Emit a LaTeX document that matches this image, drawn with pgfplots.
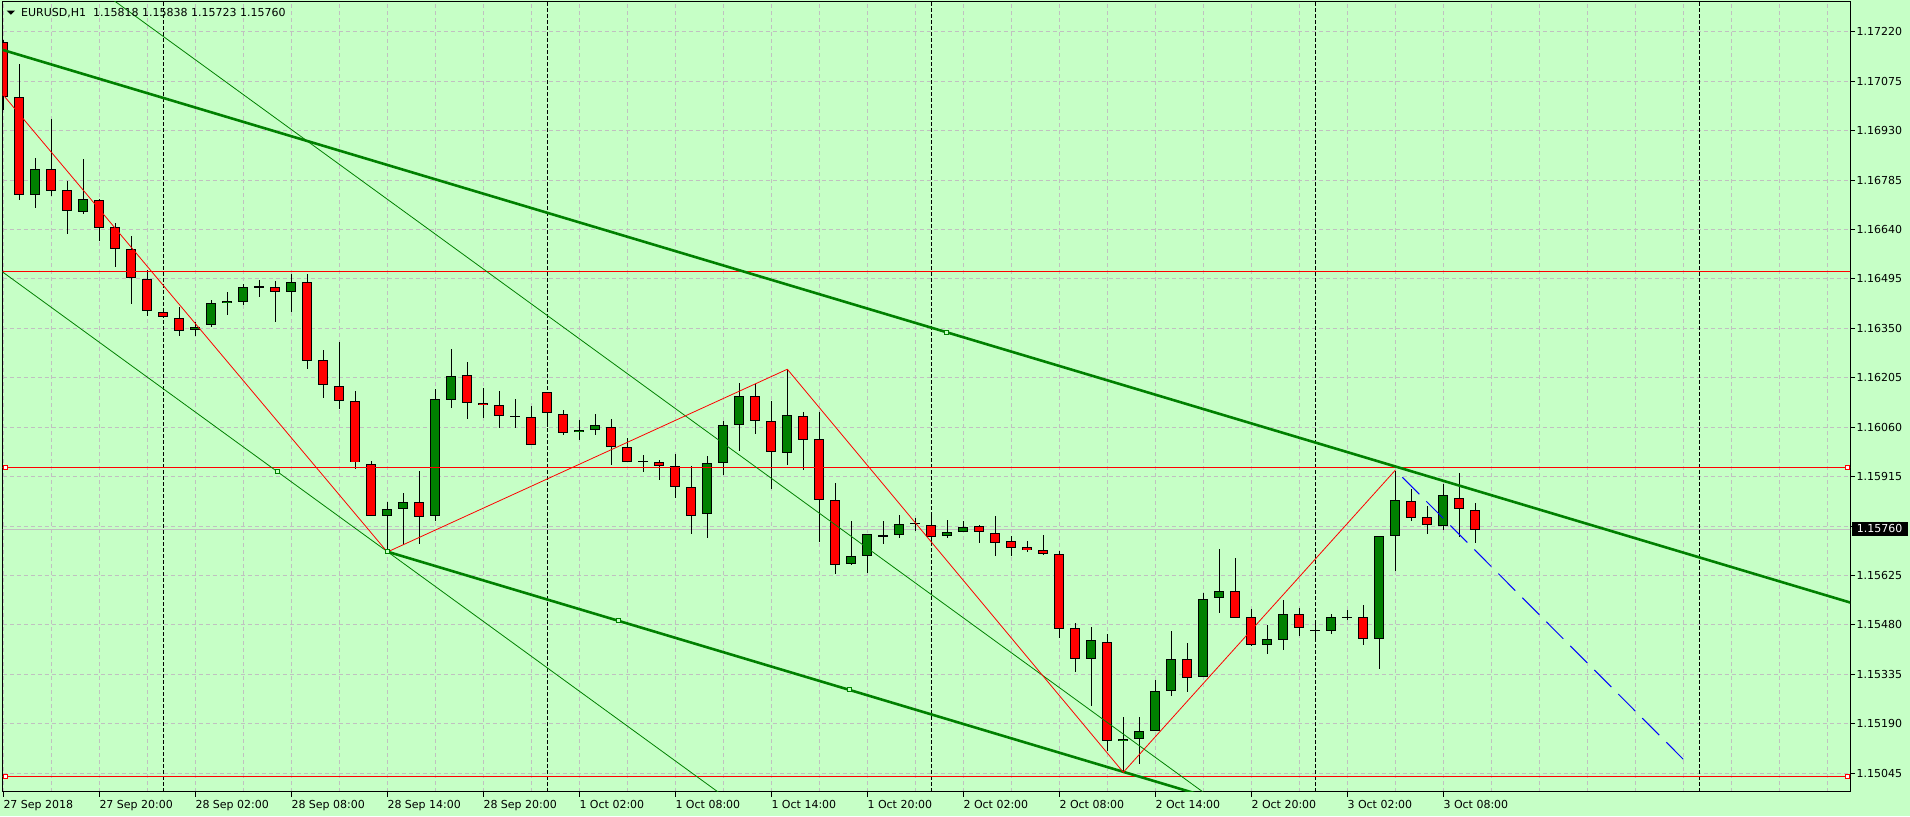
\documentclass[border=0pt]{standalone}
\usepackage{pgfplots}
\pgfplotsset{compat=1.18}
\usepackage{pgfplotstable}
\usepackage{fontspec}
\setmainfont{DejaVu Sans}
\definecolor{bg}{RGB}{198,255,198}
\definecolor{gridc}{RGB}{192,192,192}
\definecolor{mtgreen}{RGB}{0,128,0}

% bearish (red) candles: bar index, open, high, low, close
\pgfplotstableread{
k o h l c
0 1.17191 1.17196 1.16990 1.17029
1 1.17029 1.17125 1.16726 1.16743
3 1.16819 1.16964 1.16738 1.16754
4 1.16755 1.16782 1.16628 1.16693
6 1.16726 1.16729 1.16607 1.16645
7 1.16649 1.16658 1.16531 1.16582
8 1.16582 1.16621 1.16421 1.16497
9 1.16497 1.16521 1.16387 1.16403
10 1.16397 1.16398 1.16381 1.16382
11 1.16382 1.16414 1.16329 1.16344
17 1.16473 1.16492 1.16372 1.16456
19 1.16488 1.16509 1.16233 1.16257
20 1.16259 1.16287 1.16145 1.16184
21 1.16181 1.16310 1.16113 1.16136
22 1.16136 1.16169 1.15938 1.15957
23 1.15954 1.15961 1.15802 1.15802
26 1.15843 1.15932 1.15718 1.15799
29 1.16215 1.16251 1.16085 1.16133
30 1.16133 1.16176 1.16088 1.16127
31 1.16127 1.16167 1.16059 1.16092
33 1.16089 1.16122 1.16007 1.16007
34 1.16163 1.16165 1.16062 1.16101
35 1.16101 1.16111 1.16038 1.16045
38 1.16063 1.16084 1.15951 1.16004
39 1.16004 1.16028 1.15959 1.15959
41 1.15960 1.15964 1.15906 1.15948
42 1.15948 1.15981 1.15853 1.15887
43 1.15887 1.15946 1.15748 1.15801
47 1.16154 1.16186 1.16041 1.16080
48 1.16080 1.16137 1.15879 1.15989
50 1.16092 1.16104 1.15935 1.16022
51 1.16025 1.16106 1.15724 1.15846
52 1.15846 1.15896 1.15630 1.15655
58 1.15775 1.15799 1.15718 1.15740
61 1.15770 1.15775 1.15720 1.15752
62 1.15752 1.15799 1.15683 1.15722
63 1.15725 1.15743 1.15683 1.15705
64 1.15708 1.15725 1.15693 1.15699
65 1.15702 1.15746 1.15687 1.15690
66 1.15690 1.15699 1.15444 1.15470
67 1.15473 1.15485 1.15344 1.15382
69 1.15432 1.15453 1.15112 1.15142
74 1.15382 1.15429 1.15286 1.15327
77 1.15582 1.15676 1.15500 1.15503
78 1.15503 1.15527 1.15420 1.15423
81 1.15514 1.15532 1.15450 1.15473
82 1.15467 1.15497 1.15432 1.15464
85 1.15503 1.15538 1.15423 1.15441
88 1.15846 1.15881 1.15787 1.15796
89 1.15796 1.15828 1.15746 1.15772
91 1.15852 1.15925 1.15737 1.15822
92 1.15818 1.15838 1.15723 1.15760
}\bear

% bullish (green) candles and dojis
\pgfplotstableread{
k o h l c
2 1.16743 1.16850 1.16701 1.16819
5 1.16693 1.16847 1.16686 1.16729
12 1.16346 1.16370 1.16329 1.16356
13 1.16359 1.16433 1.16352 1.16424
14 1.16424 1.16456 1.16390 1.16430
15 1.16429 1.16480 1.16418 1.16473
16 1.16473 1.16492 1.16443 1.16473
18 1.16456 1.16509 1.16399 1.16485
24 1.15799 1.15841 1.15694 1.15822
25 1.15821 1.15867 1.15715 1.15843
27 1.15799 1.16172 1.15786 1.16142
28 1.16142 1.16291 1.16117 1.16212
32 1.16093 1.16143 1.16059 1.16093
36 1.16045 1.16084 1.16023 1.16051
37 1.16051 1.16099 1.16038 1.16066
40 1.15962 1.15979 1.15930 1.15962
44 1.15805 1.15976 1.15736 1.15957
45 1.15956 1.16080 1.15921 1.16069
46 1.16069 1.16190 1.15991 1.16154
49 1.15986 1.16230 1.15948 1.16095
53 1.15658 1.15785 1.15655 1.15681
54 1.15681 1.15746 1.15634 1.15746
55 1.15743 1.15785 1.15718 1.15743
56 1.15743 1.15804 1.15737 1.15778
57 1.15780 1.15796 1.15758 1.15780
59 1.15740 1.15788 1.15737 1.15752
60 1.15754 1.15786 1.15754 1.15766
68 1.15382 1.15473 1.15243 1.15435
70 1.15142 1.15212 1.15048 1.15148
71 1.15148 1.15209 1.15071 1.15171
72 1.15171 1.15321 1.15171 1.15288
73 1.15288 1.15461 1.15271 1.15382
75 1.15327 1.15573 1.15327 1.15558
76 1.15561 1.15703 1.15516 1.15582
79 1.15423 1.15479 1.15394 1.15441
80 1.15438 1.15553 1.15409 1.15514
83 1.15464 1.15511 1.15453 1.15503
84 1.15503 1.15523 1.15494 1.15503
86 1.15441 1.15743 1.15353 1.15743
87 1.15743 1.15934 1.15639 1.15848
90 1.15772 1.15893 1.15758 1.15863
}\bull

\pgfplotsset{
  wick/.style={draw=none, mark=none, forget plot,
    error bars/.cd, y dir=both, y explicit, error mark=none,
    error bar style={draw=black, solid, line width=1pt}},
  bodyout/.style={draw=none, mark=none, forget plot,
    error bars/.cd, y dir=both, y explicit, error mark=none,
    error bar style={draw=black, solid, line width=10pt}},
  bodyin/.style={draw=none, mark=none, forget plot,
    error bars/.cd, y dir=both, y explicit, error mark=none,
    error bar style={draw=#1, solid, line width=8pt}},
}

\begin{document}
\fontsize{11}{13}\selectfont
\begin{tikzpicture}[x=1pt,y=1pt]
\fill[bg] (0,0) rectangle (1910,816);
\useasboundingbox (0,0) rectangle (1910,816);
\begin{axis}[
  at={(2.5pt,24pt)}, anchor=south west, scale only axis,
  width=1847.5pt, height=790pt,
  xmin=-0.05, xmax=115.419, ymin=1.149902, ymax=1.173071,
  axis background/.style={fill=bg},
  axis line style={black, line width=1pt},
  tick style={black, line width=1pt},
  major tick length=5pt, tick align=outside,
  xtick pos=lower, ytick pos=upper, yticklabel pos=right,
  xtick={0,6,...,90},
  xticklabels={27 Sep 2018,27 Sep 20:00,28 Sep 02:00,28 Sep 08:00,28 Sep 14:00,28 Sep 20:00,1 Oct 02:00,1 Oct 08:00,1 Oct 14:00,1 Oct 20:00,2 Oct 02:00,2 Oct 08:00,2 Oct 14:00,2 Oct 20:00,3 Oct 02:00,3 Oct 08:00},
  minor xtick={0,3,...,114},
  minor tick length=0pt,
  xmajorgrids=false, xminorgrids=true, ymajorgrids=true,
  ytick={1.15045,1.15190,1.15335,1.15480,1.15625,1.15770,1.15915,1.16060,1.16205,1.16350,1.16495,1.16640,1.16785,1.16930,1.17075,1.17220},
  yticklabels={1.15045,1.15190,1.15335,1.15480,1.15625,1.15770,1.15915,1.16060,1.16205,1.16350,1.16495,1.16640,1.16785,1.16930,1.17075,1.17220},
  grid style={gridc, dash pattern=on 4pt off 3pt, line width=1pt},
  minor grid style={gridc, dash pattern=on 4pt off 3pt, line width=1pt},
  extra x ticks={10,34,58,82,106},
  extra x tick labels={},
  extra x tick style={xmajorgrids=true, xminorgrids=false, major tick length=0pt,
     major grid style={black, dash pattern=on 4pt off 2pt, line width=1pt}},
  xticklabel style={anchor=north west, inner sep=0pt, font=\fontsize{11}{13}\selectfont},
  yticklabel style={anchor=west, inner sep=0pt, font=\fontsize{11}{13}\selectfont},
  xticklabel shift=3pt, yticklabel shift=1.5pt,
]
% bid line
\addplot[gridc, line width=1pt, forget plot] coordinates {(-1,1.15760) (120,1.15760)};
% candles
\addplot[wick] table[x=k, y expr={(\thisrow{h}+\thisrow{l})/2}, y error expr={(\thisrow{h}-\thisrow{l})/2}] {\bear};
\addplot[wick] table[x=k, y expr={(\thisrow{h}+\thisrow{l})/2}, y error expr={(\thisrow{h}-\thisrow{l})/2}] {\bull};
\addplot[bodyout] table[x=k, y expr={(\thisrow{o}+\thisrow{c})/2}, y error expr={max(abs(\thisrow{o}-\thisrow{c})/2,0.0000147)}] {\bear};
\addplot[bodyout] table[x=k, y expr={(\thisrow{o}+\thisrow{c})/2}, y error expr={max(abs(\thisrow{o}-\thisrow{c})/2,0.0000147)}] {\bull};
\addplot[bodyin=red] table[x=k, y expr={(\thisrow{o}+\thisrow{c})/2}, y error expr={max(abs(\thisrow{o}-\thisrow{c})/2-0.0000293,0)}] {\bear};
\addplot[bodyin=mtgreen] table[x=k, y expr={(\thisrow{o}+\thisrow{c})/2}, y error expr={max(abs(\thisrow{o}-\thisrow{c})/2-0.0000293,0)}] {\bull};
% horizontal levels
\addplot[red, line width=1pt] coordinates {(-1,1.16518) (120,1.16518)};
\addplot[red, line width=1pt] coordinates {(-1,1.15942) (120,1.15942)};
\addplot[red, line width=1pt] coordinates {(-1,1.15036) (120,1.15036)};
% thin channel
\addplot[mtgreen, line width=0.8pt] coordinates {(0,1.17547) (120,1.13455)};
\addplot[mtgreen, line width=0.8pt] coordinates {(-2,1.16582) (120,1.12421)};
% thick channel
\addplot[mtgreen, line width=2.6pt] coordinates {(-2,1.171941) (120,1.154817)};
\addplot[mtgreen, line width=2.6pt] coordinates {(24,1.15695) (120,1.143475)};
% zigzag
\addplot[red, line width=0.8pt] coordinates {(-1,1.17090) (24,1.15694) (49,1.16230) (70,1.15048) (87,1.15934)};
% projection
\addplot[blue, line width=1pt, dash pattern=on 24pt off 10pt, dash phase=24pt] coordinates {(87,1.15934) (105,1.15086)};
% object handles
\addplot[only marks, mark=square*, mark size=2pt, mark options={draw=mtgreen, fill=bg, line width=1pt, solid}] coordinates {(24,1.15695) (38.47,1.15492) (52.86,1.15290) (58.95,1.16339) (17.15,1.15929)};
\addplot[only marks, mark=square*, mark size=2pt, mark options={draw=red, fill=white, line width=1pt, solid}] coordinates {(0.12,1.15942) (115.26,1.15942) (0.12,1.15036) (115.26,1.15036)};
\end{axis}
% current price label
\node[fill=black, text=white, inner sep=0pt, minimum width=56pt, minimum height=13.7pt, font=\fontsize{11}{13}\selectfont] at (1879.7,287.15) {1.15760};
% title
\fill[black] (6.7,805.3) -- (15,805.3) -- (10.85,801.3) -- cycle;
\node[anchor=base west, inner sep=0pt, font=\fontsize{11}{13}\selectfont] at (21,799.5) {EURUSD,H1\hspace{7pt}1.15818 1.15838 1.15723 1.15760};
\end{tikzpicture}
\end{document}
